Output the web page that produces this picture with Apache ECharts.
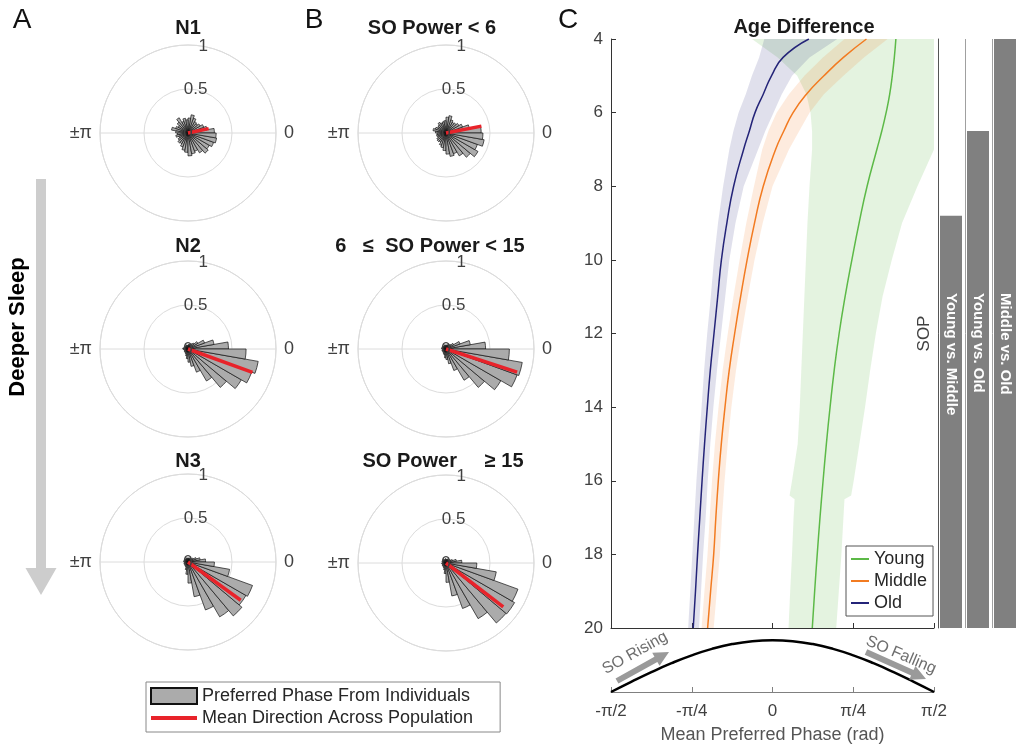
<!DOCTYPE html>
<html>
<head>
<meta charset="utf-8">
<script src="https://cdn.jsdelivr.net/npm/echarts@6/dist/echarts.min.js"></script>
<style>html,body{margin:0;padding:0;background:#fff}#chart{width:1019px;height:747px}</style>
</head>
<body>
<div id="chart"></div>
<script>
const FONT = '"Liberation Sans", Arial, Helvetica, sans-serif';

// ---------- Panels A/B : polar histograms ----------
// bin centres in degrees (counter-clockwise from phase 0)
const BIN_CENTERS = [5,15,25,35,45,55,65,75,85,95,105,115,125,135,145,155,165,175,185,195,205,215,225,235,245,255,265,275,285,295,305,315,325,335,345,355];
const HIST_N1   = [0.30,0.22,0.19,0.16,0.14,0.15,0.18,0.21,0.17,0.15,0.17,0.14,0.20,0.16,0.13,0.15,0.19,0.14,0.12,0.14,0.11,0.13,0.15,0.14,0.17,0.20,0.22,0.26,0.24,0.22,0.26,0.30,0.28,0.31,0.33,0.32];
const HIST_N2   = [0.46,0.30,0.20,0.13,0.09,0.07,0.06,0.05,0.05,0.04,0.04,0.05,0.04,0.04,0.05,0.04,0.05,0.06,0.05,0.04,0.04,0.05,0.04,0.05,0.06,0.08,0.11,0.15,0.20,0.28,0.42,0.57,0.70,0.77,0.81,0.66];
const HIST_N3   = [0.20,0.14,0.10,0.07,0.05,0.05,0.04,0.05,0.04,0.04,0.05,0.04,0.04,0.05,0.04,0.05,0.04,0.05,0.04,0.04,0.05,0.04,0.05,0.05,0.06,0.09,0.14,0.24,0.40,0.58,0.72,0.80,0.76,0.78,0.48,0.30];
const HIST_LOW  = [0.40,0.27,0.20,0.17,0.15,0.14,0.16,0.20,0.18,0.14,0.13,0.12,0.14,0.12,0.11,0.13,0.15,0.12,0.10,0.11,0.10,0.12,0.13,0.12,0.15,0.17,0.20,0.24,0.27,0.25,0.30,0.36,0.42,0.38,0.44,0.42];
const HIST_MID  = [0.45,0.28,0.17,0.10,0.07,0.06,0.05,0.05,0.04,0.04,0.05,0.04,0.04,0.04,0.05,0.04,0.05,0.05,0.04,0.04,0.05,0.04,0.04,0.05,0.06,0.07,0.10,0.12,0.17,0.26,0.41,0.57,0.72,0.86,0.88,0.72];
const HIST_HIGH = [0.18,0.12,0.08,0.06,0.05,0.04,0.05,0.04,0.04,0.05,0.04,0.04,0.05,0.04,0.04,0.05,0.04,0.04,0.05,0.04,0.04,0.05,0.04,0.05,0.06,0.08,0.12,0.22,0.38,0.55,0.73,0.89,0.90,0.87,0.58,0.35];
// mean direction across population (degrees) and resultant length
const MEAN_ANGLE_DEG = [12, -20, -36, 11, -18, -37.5];
const MEAN_LENGTH    = [0.24, 0.78, 0.74, 0.41, 0.85, 0.82];
const POLAR_TITLES = ['N1', 'N2', 'N3', 'SO Power < 6', '6   ≤  SO Power < 15', 'SO Power     ≥ 15'];
const ANGLE_TICK_LABELS = {0: '0', 180: '±π'};

// ---------- Panel C ----------
const SOP_GRID = [4,4.5,5,5.5,6,6.5,7,8,9,10,11,12,13,14,15,16,17,18,19,20];
const YOUNG_PHASE  = [1.2,1.185,1.165,1.14,1.105,1.063,1.015,0.92,0.842,0.772,0.706,0.648,0.6,0.56,0.524,0.492,0.462,0.435,0.41,0.387];
const MIDDLE_PHASE = [0.914,0.69,0.5,0.33,0.2,0.11,0.03,-0.09,-0.175,-0.247,-0.31,-0.368,-0.421,-0.462,-0.498,-0.527,-0.551,-0.572,-0.602,-0.631];
const OLD_PHASE    = [0.354,0.103,-0.01,-0.09,-0.17,-0.225,-0.281,-0.378,-0.444,-0.497,-0.533,-0.569,-0.605,-0.634,-0.661,-0.685,-0.707,-0.729,-0.749,-0.771];
const MIDDLE_LO = [0.70,0.49,0.31,0.16,0.04,-0.04,-0.1,-0.18,-0.255,-0.32,-0.38,-0.435,-0.485,-0.525,-0.56,-0.588,-0.611,-0.632,-0.662,-0.69];
const MIDDLE_HI = [1.12,0.89,0.69,0.5,0.36,0.26,0.16,0.0,-0.095,-0.175,-0.24,-0.3,-0.355,-0.4,-0.436,-0.466,-0.491,-0.512,-0.542,-0.572];
const OLD_LO = [-0.08,-0.13,-0.2,-0.26,-0.33,-0.38,-0.42,-0.48,-0.53,-0.57,-0.6,-0.635,-0.665,-0.69,-0.715,-0.74,-0.76,-0.78,-0.8,-0.82];
const OLD_HI = [0.63,0.36,0.19,0.09,0.01,-0.07,-0.14,-0.28,-0.36,-0.42,-0.46,-0.5,-0.54,-0.575,-0.605,-0.63,-0.65,-0.675,-0.695,-0.715];
const YOUNG_BAND_SOP = [4,4.5,5,5.5,6,6.5,7,8,9,10,11,12,13,14,15,16,16.4,16.5,17,18,19,20];
const YOUNG_LO = [-0.2,0.05,0.24,0.33,0.37,0.385,0.385,0.36,0.34,0.325,0.31,0.295,0.28,0.265,0.245,0.19,0.166,0.215,0.205,0.19,0.172,0.156];
const YOUNG_HI = [1.5708,1.5708,1.5708,1.5708,1.5708,1.5708,1.5708,1.41,1.26,1.16,1.07,1.005,0.95,0.9,0.845,0.79,0.765,0.70,0.69,0.67,0.645,0.62];
const COMPARISONS = ['Young vs. Middle', 'Young vs. Old', 'Middle vs. Old'];
const SIG_ONSET_SOP = [8.8, 6.5, 4];
const SOP_TICKS_MIN = 4, SOP_TICKS_MAX = 20, SOP_INTERVAL = 2;
const LABEL_SOP = 10.9;
// schematic slow oscillation waveform under panel C
const WAVE_X = [-1.5708,-1.3744,-1.1781,-0.9817,-0.7854,-0.5890,-0.3927,-0.1963,0,0.1963,0.3927,0.5890,0.7854,0.9817,1.1781,1.3744,1.5708];
const WAVE_Y = [0,0.195,0.383,0.556,0.707,0.831,0.924,0.981,1,0.981,0.924,0.831,0.707,0.556,0.383,0.195,0];
const PHASE_TICK_LABELS = ['-π/2', '-π/4', '0', 'π/4', 'π/2'];

// ---------- styles / layout ----------
const GRID_GRAY = '#dcdcdc';
const LABEL_COLOR = '#404040';
const YOUNG_COLOR = '#5cb947', MIDDLE_COLOR = '#f27b21', OLD_COLOR = '#242478';
const BAR_GRAY = '#808080';
const POLAR_CENTERS = [[188,133],[188,349],[188,562],[446,133],[446,349],[446,563]];
const POLAR_RADIUS = 88;
const TITLE_POS = [[188,28],[188,246],[188,461],[432,28],[430,246],[443,461]];
const RADIUS_LABEL_ANGLE = 80;
const LEGEND_HIST = 'Preferred Phase From Individuals';
const LEGEND_MEAN = 'Mean Direction Across Population';
const LINE_ICON = 'path://M0,0L100,0L100,9L0,9Z';
const THIN_LINE_ICON = 'path://M0,0L100,0L100,11L0,11Z';

const chart = echarts.init(document.getElementById('chart'));
const polar = [], angleAxis = [], radiusAxis = [], series = [], graphic = [];
const HISTS = [HIST_N1, HIST_N2, HIST_N3, HIST_LOW, HIST_MID, HIST_HIGH];

HISTS.forEach((hist, p) => {
  const b = p * 3;
  for (let k = 0; k < 3; k++) polar.push({center: POLAR_CENTERS[p], radius: POLAR_RADIUS});
  // data polar
  angleAxis.push({polarIndex: b, type: 'category', data: BIN_CENTERS, startAngle: 0, clockwise: false, boundaryGap: true,
    axisLine: {show: false}, axisTick: {show: false}, axisLabel: {show: false}, splitLine: {show: false}, splitArea: {show: false}});
  radiusAxis.push({polarIndex: b, type: 'value', min: 0, max: 1,
    axisLine: {show: false}, axisTick: {show: false}, axisLabel: {show: false}, splitLine: {show: false}, splitArea: {show: false}});
  // grid polar
  angleAxis.push({polarIndex: b + 1, type: 'value', min: 0, max: 360, interval: 180, startAngle: 0, clockwise: false,
    axisLine: {show: true, lineStyle: {color: GRID_GRAY, width: 1}}, axisTick: {show: false},
    axisLabel: {show: true, margin: 8, fontSize: 18, color: LABEL_COLOR, fontFamily: FONT,
      formatter: v => (ANGLE_TICK_LABELS[v] !== undefined ? ANGLE_TICK_LABELS[v] : '')},
    splitLine: {show: true, lineStyle: {color: GRID_GRAY, width: 1}}, splitArea: {show: false}});
  radiusAxis.push({polarIndex: b + 1, type: 'value', min: 0, max: 1, interval: 0.5,
    axisLine: {show: false}, axisTick: {show: false}, axisLabel: {show: false},
    splitLine: {show: true, lineStyle: {color: GRID_GRAY, width: 1}}, splitArea: {show: false}});
  // radius-label polar
  angleAxis.push({polarIndex: b + 2, type: 'value', min: 0, max: 360, startAngle: RADIUS_LABEL_ANGLE, clockwise: false, show: false});
  radiusAxis.push({polarIndex: b + 2, type: 'value', min: 0, max: 1, interval: 0.5, z: 10,
    axisLine: {show: false}, axisTick: {show: false}, splitLine: {show: false}, splitArea: {show: false},
    axisLabel: {show: true, showMinLabel: true, showMaxLabel: true, margin: 0, align: 'center', verticalAlign: 'middle',
      fontSize: 17, color: LABEL_COLOR, fontFamily: FONT}});

  series.push({name: LEGEND_HIST, type: 'bar', coordinateSystem: 'polar', polarIndex: b, data: hist,
    barCategoryGap: '0%', silent: true, z: 2,
    itemStyle: {color: '#ababab', borderColor: '#111', borderWidth: 0.7}});
  const a = (MEAN_ANGLE_DEG[p] + 360) % 360;
  series.push({name: LEGEND_MEAN, type: 'line', coordinateSystem: 'polar', polarIndex: b + 1,
    data: [[0, a], [MEAN_LENGTH[p], a]], symbol: 'none', silent: true, z: 4,
    lineStyle: {color: '#e8232a', width: 3.5}, itemStyle: {color: '#e8232a'}});

  graphic.push({type: 'text', x: TITLE_POS[p][0], y: TITLE_POS[p][1], z: 100,
    style: {text: POLAR_TITLES[p], fill: '#1a1a1a', fontSize: 20, fontWeight: 'bold', fontFamily: FONT, align: 'center', verticalAlign: 'middle'}});
});

function bandSeries(name, sops, lo, hi, color, opacity) {
  return {
    name, type: 'custom', xAxisIndex: 0, yAxisIndex: 0, silent: true, z: 1,
    data: [[lo[0], sops[0]]],
    renderItem: (params, api) => {
      const pts = [];
      for (let i = 0; i < sops.length; i++) pts.push(api.coord([lo[i], sops[i]]));
      for (let i = sops.length - 1; i >= 0; i--) pts.push(api.coord([hi[i], sops[i]]));
      return {type: 'polygon', shape: {points: pts}, style: {fill: color, opacity: opacity}};
    }
  };
}
function phaseLine(name, phases, color) {
  return {name, type: 'line', xAxisIndex: 0, yAxisIndex: 0, data: SOP_GRID.map((s, i) => [phases[i], s]),
    symbol: 'none', smooth: 0.5, silent: true, z: 3,
    lineStyle: {color, width: 1.5}, itemStyle: {color}};
}
series.push(bandSeries('Young CI', YOUNG_BAND_SOP, YOUNG_LO, YOUNG_HI, YOUNG_COLOR, 0.17));
series.push(bandSeries('Middle CI', SOP_GRID, MIDDLE_LO, MIDDLE_HI, MIDDLE_COLOR, 0.15));
series.push(bandSeries('Old CI', SOP_GRID, OLD_LO, OLD_HI, OLD_COLOR, 0.14));
series.push(phaseLine('Young', YOUNG_PHASE, YOUNG_COLOR));
series.push(phaseLine('Middle', MIDDLE_PHASE, MIDDLE_COLOR));
series.push(phaseLine('Old', OLD_PHASE, OLD_COLOR));

series.push({
  type: 'custom', xAxisIndex: 1, yAxisIndex: 1, silent: true, z: 2,
  data: COMPARISONS.map((c, i) => [c, SIG_ONSET_SOP[i]]),
  renderItem: (params, api) => {
    const top = api.coord([api.value(0), api.value(1)]);
    const bottom = api.coord([api.value(0), SOP_TICKS_MAX]);
    const band = api.size([1, 0])[0];
    const w = band - 5;
    const x0 = top[0] - band / 2 + 2;
    const ly = api.coord([api.value(0), LABEL_SOP])[1];
    return {type: 'group', children: [
      {type: 'rect', shape: {x: x0, y: top[1], width: w, height: bottom[1] - top[1]}, style: {fill: BAR_GRAY}},
      {type: 'text', x: x0 + w / 2, y: ly, rotation: -Math.PI / 2,
        style: {text: COMPARISONS[params.dataIndex], fill: '#fff', fontSize: 15, fontWeight: 'bold', fontFamily: FONT, align: 'left', verticalAlign: 'middle'}}
    ]};
  }
});

series.push({type: 'line', xAxisIndex: 2, yAxisIndex: 2, data: WAVE_X.map((x, i) => [x, WAVE_Y[i]]),
  smooth: true, symbol: 'none', silent: true, lineStyle: {color: '#000', width: 2.5}});

function arrowPolygon(x1, y1, x2, y2, sw, hl, hw) {
  const dx = x2 - x1, dy = y2 - y1, L = Math.hypot(dx, dy);
  const ux = dx / L, uy = dy / L, nx = -uy, ny = ux;
  const bx = x2 - ux * hl, by = y2 - uy * hl;
  return [[x1 + nx * sw / 2, y1 + ny * sw / 2], [bx + nx * sw / 2, by + ny * sw / 2], [bx + nx * hw / 2, by + ny * hw / 2],
          [x2, y2], [bx - nx * hw / 2, by - ny * hw / 2], [bx - nx * sw / 2, by - ny * sw / 2], [x1 - nx * sw / 2, y1 - ny * sw / 2]];
}
const letter = (t, x) => ({type: 'text', x, y: 20, z: 100,
  style: {text: t, fill: '#111', fontSize: 28, fontFamily: FONT, align: 'center', verticalAlign: 'middle'}});
graphic.push(letter('A', 22), letter('B', 314), letter('C', 568));
graphic.push({type: 'text', x: 804, y: 27, z: 100,
  style: {text: 'Age Difference', fill: '#1a1a1a', fontSize: 20, fontWeight: 'bold', fontFamily: FONT, align: 'center', verticalAlign: 'middle'}});
graphic.push({type: 'polygon', z: 50, shape: {points: arrowPolygon(41, 179, 41, 595, 10, 27, 31)}, style: {fill: '#cdcdcd'}});
graphic.push({type: 'text', x: 18, y: 327, rotation: Math.PI / 2, z: 100,
  style: {text: 'Deeper Sleep', fill: '#000', fontSize: 22, fontWeight: 'bold', fontFamily: FONT, align: 'center', verticalAlign: 'middle'}});
graphic.push({type: 'polygon', z: 50, shape: {points: arrowPolygon(617, 681, 669, 652, 6, 15, 15)}, style: {fill: '#9a9a9a'}});
graphic.push({type: 'polygon', z: 50, shape: {points: arrowPolygon(866, 652, 926, 679, 6, 15, 15)}, style: {fill: '#9a9a9a'}});
graphic.push({type: 'text', x: 635, y: 653, rotation: 29 * Math.PI / 180, z: 100,
  style: {text: 'SO Rising', fill: '#6e6e6e', fontSize: 16, fontFamily: FONT, align: 'center', verticalAlign: 'middle'}});
graphic.push({type: 'text', x: 901, y: 655, rotation: -23 * Math.PI / 180, z: 100,
  style: {text: 'SO Falling', fill: '#6e6e6e', fontSize: 16, fontFamily: FONT, align: 'center', verticalAlign: 'middle'}});

const Q = Math.PI / 4;
const phaseFmt = v => PHASE_TICK_LABELS[Math.round(v / Q) + 2] || '';

const option = {
  animation: false,
  backgroundColor: '#fff',
  textStyle: {fontFamily: FONT},
  polar, angleAxis, radiusAxis,
  grid: [
    {left: 611, top: 39, width: 323, height: 589},
    {left: 938, top: 39, width: 84, height: 589},
    {left: 611, top: 636, width: 323, height: 56}
  ],
  xAxis: [
    {gridIndex: 0, type: 'value', min: -2 * Q, max: 2 * Q, interval: Q,
      axisLine: {show: true, onZero: false, lineStyle: {color: '#333'}},
      axisTick: {show: true, inside: true, length: 5, lineStyle: {color: '#333'}},
      axisLabel: {show: false}, splitLine: {show: false}},
    {gridIndex: 1, type: 'category', data: COMPARISONS, boundaryGap: true,
      axisLine: {show: false}, axisTick: {show: false}, axisLabel: {show: false},
      splitLine: {show: true, interval: 0, lineStyle: {color: '#a0a0a0', width: 1}}},
    {gridIndex: 2, type: 'value', min: -2 * Q, max: 2 * Q, interval: Q,
      axisLine: {show: true, onZero: false, lineStyle: {color: '#808080'}},
      axisTick: {show: true, inside: true, length: 5, lineStyle: {color: '#808080'}},
      axisLabel: {show: true, formatter: phaseFmt, fontSize: 17, color: LABEL_COLOR, margin: 11, showMinLabel: true, showMaxLabel: true},
      splitLine: {show: false},
      name: 'Mean Preferred Phase (rad)', nameLocation: 'middle', nameGap: 34,
      nameTextStyle: {fontSize: 18, color: '#555'}}
  ],
  yAxis: [
    {gridIndex: 0, type: 'value', inverse: true, min: SOP_TICKS_MIN, max: SOP_TICKS_MAX, interval: SOP_INTERVAL,
      axisLine: {show: true, onZero: false, lineStyle: {color: '#333'}},
      axisTick: {show: true, inside: true, length: 5, lineStyle: {color: '#333'}},
      axisLabel: {show: true, fontSize: 17, color: LABEL_COLOR, margin: 8}, splitLine: {show: false}},
    {gridIndex: 1, type: 'value', inverse: true, min: SOP_TICKS_MIN, max: SOP_TICKS_MAX,
      axisLine: {show: true, onZero: false, lineStyle: {color: '#555'}},
      axisTick: {show: false}, axisLabel: {show: false}, splitLine: {show: false},
      name: 'SOP', nameLocation: 'middle', nameGap: 5, nameRotate: 90,
      nameTextStyle: {fontSize: 17, color: LABEL_COLOR}},
    {gridIndex: 2, type: 'value', min: 0, max: 1.08, show: false}
  ],
  legend: [
    {left: 146, top: 682, orient: 'vertical', selectedMode: false,
      data: [{name: LEGEND_HIST, icon: 'rect'}, {name: LEGEND_MEAN, icon: LINE_ICON}],
      itemWidth: 46, itemHeight: 16, itemGap: 4, padding: [5, 27, 5, 4],
      borderColor: '#888', borderWidth: 1,
      textStyle: {fontSize: 18, color: '#262626', fontFamily: FONT}},
    {left: 846, top: 546, orient: 'vertical', selectedMode: false,
      data: [{name: 'Young', icon: THIN_LINE_ICON}, {name: 'Middle', icon: THIN_LINE_ICON}, {name: 'Old', icon: THIN_LINE_ICON}],
      itemWidth: 18, itemHeight: 14, itemGap: 4, padding: [4, 6, 4, 5],
      borderColor: '#555', borderWidth: 1,
      textStyle: {fontSize: 18, color: '#262626', fontFamily: FONT}}
  ],
  graphic: graphic,
  series: series
};
chart.setOption(option);
</script>
</body>
</html>
